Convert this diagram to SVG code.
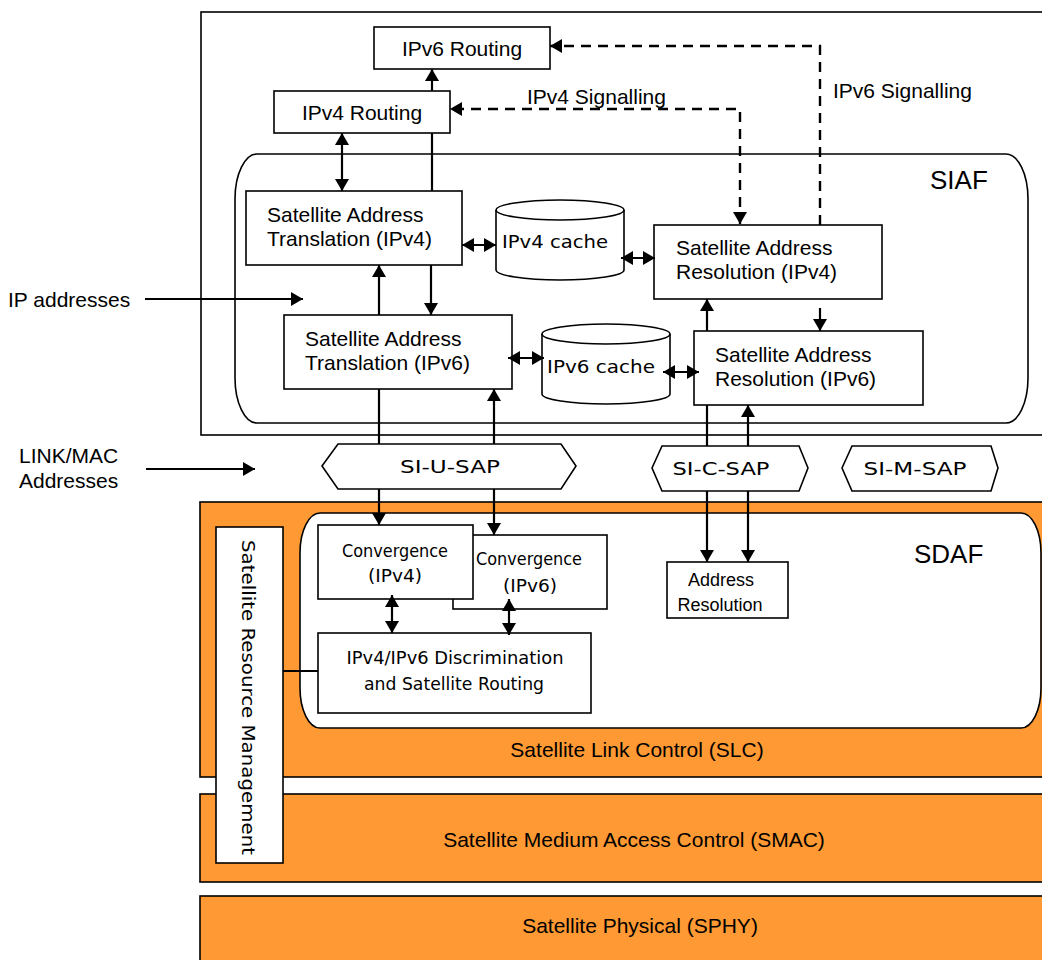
<svg xmlns="http://www.w3.org/2000/svg" width="1042" height="960" viewBox="0 0 1042 960">
  <style>
    .box { fill: #ffffff; stroke: #000; stroke-width: 1.6; }
    .layer { fill: #FF9933; stroke: #000; stroke-width: 1.6; }
    .frame { fill: none; stroke: #000; stroke-width: 1.6; }
    .t { font-family: "Liberation Sans", Arial, sans-serif; font-size: 21px; fill: #000; }
    .ts { font-family: "Liberation Sans", Arial, sans-serif; font-size: 18px; fill: #000; }
    .big { font-family: "Liberation Sans", Arial, sans-serif; font-size: 26px; fill: #000; }
    .c { font-family: "Comic Sans MS", "DejaVu Sans", sans-serif; font-size: 18px; fill: #000; }
    .ln { fill: none; stroke: #000; stroke-width: 2.2; }
    .dash { fill: none; stroke: #000; stroke-width: 2.4; stroke-dasharray: 10 7; }
  </style>
  <defs>
    <marker id="ah" viewBox="0 0 12 14" markerUnits="userSpaceOnUse" markerWidth="12" markerHeight="14" refX="12" refY="7" orient="auto-start-reverse">
      <path d="M0,0 L12,7 L0,14 z" fill="#000"/>
    </marker>
  </defs>

  <!-- background -->
  <rect x="0" y="0" width="1042" height="960" fill="#ffffff"/>

  <!-- containers -->
  <g id="ip-layer">
    <rect x="201" y="12" width="860" height="423" class="frame"/>
  </g>
  <g id="siaf">
    <rect x="235" y="154" width="793" height="269" rx="22" ry="45" class="frame"/>
    <text x="930" y="189" class="big">SIAF</text>
  </g>
  <g id="slc">
    <rect x="200" y="502" width="860" height="275" class="layer"/>
    <text x="637" y="757" class="t" text-anchor="middle">Satellite Link Control (SLC)</text>
  </g>
  <g id="sdaf">
    <rect x="300" y="513" width="741" height="215" rx="20" ry="40" class="box"/>
    <text x="914" y="563" class="big">SDAF</text>
  </g>
  <g id="smac">
    <rect x="200" y="794" width="860" height="88" class="layer"/>
    <text x="634" y="847" class="t" text-anchor="middle">Satellite Medium Access Control (SMAC)</text>
  </g>
  <g id="sphy">
    <rect x="200" y="896" width="860" height="80" class="layer"/>
    <text x="640" y="933" class="t" text-anchor="middle">Satellite Physical (SPHY)</text>
  </g>

  <!-- side labels -->
  <g id="label-ip">
    <text x="8" y="307" class="t">IP addresses</text>
  </g>
  <g id="label-link">
    <text x="19" y="463" class="t">LINK/MAC</text>
    <text x="19" y="488" class="t">Addresses</text>
  </g>

  <!-- nodes -->
  <g id="ipv6-routing">
    <rect x="374" y="27" width="176" height="42" class="box"/>
    <text x="462" y="56" class="t" text-anchor="middle">IPv6 Routing</text>
  </g>
  <g id="ipv4-routing">
    <rect x="274" y="91" width="176" height="42" class="box"/>
    <text x="362" y="120" class="t" text-anchor="middle">IPv4 Routing</text>
  </g>
  <g id="label-ipv4-signalling">
    <text x="527" y="104" class="t">IPv4 Signalling</text>
  </g>
  <g id="label-ipv6-signalling">
    <text x="833" y="98" class="t">IPv6 Signalling</text>
  </g>
  <g id="sat-ipv4">
    <rect x="246" y="191" width="216" height="74" class="box"/>
    <text x="267" y="222" class="t">Satellite Address</text>
    <text x="267" y="246" class="t">Translation (IPv4)</text>
  </g>
  <g id="sat-ipv6">
    <rect x="284" y="315" width="228" height="74" class="box"/>
    <text x="305" y="346" class="t">Satellite Address</text>
    <text x="305" y="370" class="t">Translation (IPv6)</text>
  </g>
  <g id="ipv4-cache">
    <path d="M496,210 A64,10 0 0 1 624,210 L624,270 A64,10 0 0 1 496,270 Z" class="box"/>
    <path d="M496,210 A64,10 0 0 0 624,210" class="frame"/>
    <text x="555" y="248" class="c" text-anchor="middle" textLength="106" lengthAdjust="spacingAndGlyphs">IPv4 cache</text>
  </g>
  <g id="ipv6-cache">
    <path d="M542,334 A64,10 0 0 1 670,334 L670,394 A64,10 0 0 1 542,394 Z" class="box"/>
    <path d="M542,334 A64,10 0 0 0 670,334" class="frame"/>
    <text x="601" y="373" class="c" text-anchor="middle" textLength="108" lengthAdjust="spacingAndGlyphs">IPv6 cache</text>
  </g>
  <g id="sar-ipv4">
    <rect x="654" y="225" width="228" height="74" class="box"/>
    <text x="676" y="255" class="t">Satellite Address</text>
    <text x="676" y="279" class="t">Resolution (IPv4)</text>
  </g>
  <g id="sar-ipv6">
    <rect x="694" y="331" width="229" height="74" class="box"/>
    <text x="715" y="362" class="t">Satellite Address</text>
    <text x="715" y="386" class="t">Resolution (IPv6)</text>
  </g>

  <g id="si-u-sap">
    <polygon points="322,466 338,444 561,444 576,466 561,489 338,489" class="box"/>
    <text x="450" y="473" class="c" text-anchor="middle" textLength="100" lengthAdjust="spacingAndGlyphs">SI-U-SAP</text>
  </g>
  <g id="si-c-sap">
    <polygon points="652,468 662,446 799,446 808,468 799,491 662,491" class="box"/>
    <text x="721" y="475" class="c" text-anchor="middle" textLength="97" lengthAdjust="spacingAndGlyphs">SI-C-SAP</text>
  </g>
  <g id="si-m-sap">
    <polygon points="842,468 852,446 991,446 998,468 991,491 852,491" class="box"/>
    <text x="915" y="475" class="c" text-anchor="middle" textLength="103" lengthAdjust="spacingAndGlyphs">SI-M-SAP</text>
  </g>

  <g id="srm">
    <rect x="216" y="527" width="67" height="336" class="box"/>
    <text x="0" y="0" class="c" transform="translate(242,540) rotate(90)" textLength="315" lengthAdjust="spacingAndGlyphs" font-size="21">Satellite Resource Management</text>
  </g>
  <g id="convergence-ipv6">
    <rect x="453" y="535" width="154" height="74" class="box"/>
    <text x="529" y="565" class="c" text-anchor="middle" textLength="106" lengthAdjust="spacingAndGlyphs">Convergence</text>
    <text x="530" y="592" class="c" text-anchor="middle" textLength="54" lengthAdjust="spacingAndGlyphs">(IPv6)</text>
  </g>
  <g id="convergence-ipv4">
    <rect x="318" y="525" width="155" height="74" class="box"/>
    <text x="395" y="557" class="c" text-anchor="middle" textLength="106" lengthAdjust="spacingAndGlyphs">Convergence</text>
    <text x="395" y="582" class="c" text-anchor="middle" textLength="54" lengthAdjust="spacingAndGlyphs">(IPv4)</text>
  </g>
  <g id="discrimination">
    <rect x="318" y="633" width="273" height="80" class="box"/>
    <text x="455" y="664" class="c" text-anchor="middle" textLength="217" lengthAdjust="spacingAndGlyphs">IPv4/IPv6 Discrimination</text>
    <text x="454" y="690" class="c" text-anchor="middle" textLength="180" lengthAdjust="spacingAndGlyphs">and Satellite Routing</text>
  </g>
  <g id="address-resolution">
    <rect x="667" y="562" width="121" height="56" class="box"/>
    <text x="721" y="586" class="ts" text-anchor="middle">Address</text>
    <text x="720" y="611" class="ts" text-anchor="middle">Resolution</text>
  </g>

  <!-- connectors, split where they pass behind boxes -->
  <g id="connectors">
    <!-- label pointers -->
    <line x1="145" y1="299" x2="303" y2="299" class="ln" marker-end="url(#ah)"/>
    <line x1="146" y1="469" x2="255" y2="469" class="ln" marker-end="url(#ah)"/>
    <!-- routing -->
    <line x1="432" y1="191" x2="432" y2="133" class="ln"/>
    <line x1="432" y1="91" x2="432" y2="69" class="ln" marker-end="url(#ah)"/>
    <line x1="342" y1="133" x2="342" y2="191" class="ln" marker-start="url(#ah)" marker-end="url(#ah)"/>
    <!-- signalling -->
    <polyline points="740,224 740,109 450,109" class="dash" marker-start="url(#ah)" marker-end="url(#ah)"/>
    <polyline points="820,225 820,46 550,46" class="dash" marker-end="url(#ah)"/>
    <line x1="820" y1="308" x2="820" y2="331" class="ln" marker-end="url(#ah)"/>
    <!-- translation -->
    <line x1="379" y1="315" x2="379" y2="265" class="ln" marker-end="url(#ah)"/>
    <line x1="431" y1="265" x2="431" y2="315" class="ln" marker-end="url(#ah)"/>
    <!-- caches -->
    <line x1="462" y1="245" x2="496" y2="245" class="ln" marker-start="url(#ah)" marker-end="url(#ah)"/>
    <line x1="621" y1="258" x2="655" y2="258" class="ln" marker-start="url(#ah)" marker-end="url(#ah)"/>
    <line x1="508" y1="358" x2="544" y2="358" class="ln" marker-start="url(#ah)" marker-end="url(#ah)"/>
    <line x1="663" y1="372" x2="699" y2="372" class="ln" marker-start="url(#ah)" marker-end="url(#ah)"/>
    <!-- user plane -->
    <line x1="379" y1="389" x2="379" y2="444" class="ln"/>
    <line x1="379" y1="489" x2="379" y2="525" class="ln" marker-end="url(#ah)"/>
    <line x1="494" y1="389" x2="494" y2="444" class="ln" marker-start="url(#ah)"/>
    <line x1="494" y1="489" x2="494" y2="535" class="ln" marker-end="url(#ah)"/>
    <!-- control plane -->
    <line x1="707" y1="331" x2="707" y2="299" class="ln" marker-end="url(#ah)"/>
    <line x1="707" y1="405" x2="707" y2="446" class="ln"/>
    <line x1="707" y1="491" x2="707" y2="562" class="ln" marker-end="url(#ah)"/>
    <line x1="748" y1="446" x2="748" y2="405" class="ln" marker-end="url(#ah)"/>
    <line x1="748" y1="491" x2="748" y2="562" class="ln" marker-end="url(#ah)"/>
    <!-- convergence to discrimination -->
    <line x1="392" y1="595" x2="392" y2="633" class="ln" marker-start="url(#ah)" marker-end="url(#ah)"/>
    <line x1="509" y1="599" x2="509" y2="635" class="ln" marker-start="url(#ah)" marker-end="url(#ah)"/>
    <line x1="283" y1="671" x2="318" y2="671" class="ln"/>
  </g>
</svg>
